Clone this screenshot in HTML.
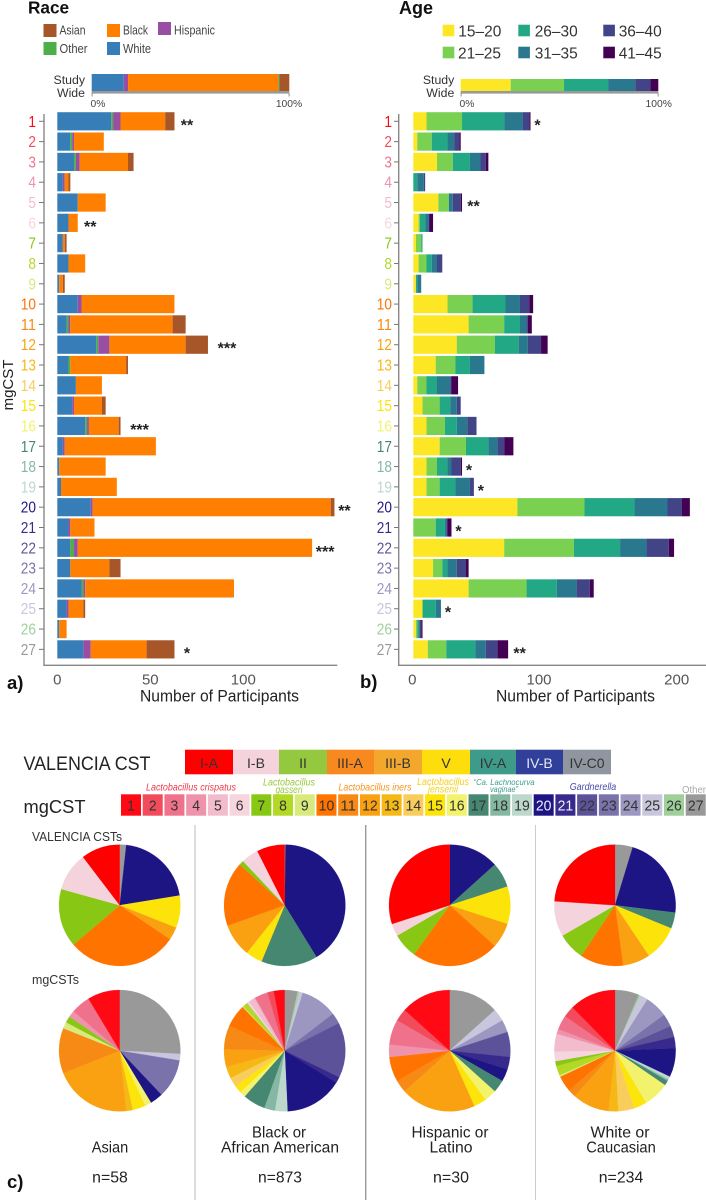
<!DOCTYPE html>
<html lang="en">
<head>
<meta charset="utf-8">
<title>mgCST by race and age</title>
<style>
html,body{margin:0;padding:0;background:#fff;width:706px;height:1200px;overflow:hidden}
svg{display:block;font-family:"Liberation Sans",sans-serif;filter:blur(0.3px)}
</style>
</head>
<body>
<svg id="fig" xmlns="http://www.w3.org/2000/svg" width="706" height="1200" viewBox="0 0 706 1200">
<g id="panel-a">
  <text x="28" y="13.5" font-size="17.2" font-weight="bold" fill="#111">Race</text>
  <g font-size="12.5" fill="#444" lengthAdjust="spacingAndGlyphs">
    <rect x="43.5" y="24" width="13" height="13" fill="#a65628"/>
    <text x="59.5" y="34.5" textLength="26" lengthAdjust="spacingAndGlyphs">Asian</text>
    <rect x="43.5" y="42" width="13" height="13" fill="#4daf4a"/>
    <text x="59.5" y="53" textLength="28" lengthAdjust="spacingAndGlyphs">Other</text>
    <rect x="107" y="24" width="13" height="13" fill="#ff7f00"/>
    <text x="123" y="34.5" textLength="25" lengthAdjust="spacingAndGlyphs">Black</text>
    <rect x="107" y="42" width="13" height="13" fill="#377eb8"/>
    <text x="123" y="53" textLength="28" lengthAdjust="spacingAndGlyphs">White</text>
    <rect x="158" y="22" width="13" height="13" fill="#984ea3"/>
    <text x="174" y="34.5" textLength="41" lengthAdjust="spacingAndGlyphs">Hispanic</text>
  </g>
  <g>
    <text x="85" y="84" font-size="12.3" text-anchor="end" fill="#333">Study</text>
    <text x="85" y="97" font-size="12.3" text-anchor="end" fill="#333">Wide</text>
    <rect x="91.7" y="91" width="197.6" height="2.6" fill="#999"/>
    <rect x="91.7" y="93" width="0.8" height="3.5" fill="#777"/>
    <rect x="288.7" y="93" width="0.8" height="3.5" fill="#777"/>
    <text x="98" y="107" font-size="10.3" text-anchor="middle" fill="#444">0%</text>
    <text x="289" y="107" font-size="10.3" text-anchor="middle" fill="#444">100%</text>
  </g>
  <text transform="translate(13,385) rotate(-90)" font-size="15" text-anchor="middle" fill="#222">mgCST</text>
  <rect x="43.3" y="114" width="1.4" height="551.5" fill="#888"/>
  <rect x="43.3" y="664.6" width="294" height="1.4" fill="#888"/>
  <text x="219.5" y="701.5" font-size="16.5" text-anchor="middle" fill="#222" textLength="159" lengthAdjust="spacingAndGlyphs">Number of Participants</text>
  <text x="7" y="689" font-size="18.5" font-weight="bold" fill="#111">a)</text>
</g>
<g id="panel-b">
  <text x="399" y="14" font-size="18" font-weight="bold" fill="#111">Age</text>
  <g font-size="16" fill="#333">
    <rect x="442.7" y="24.7" width="11.6" height="11.6" fill="#fde725"/>
    <text x="458.3" y="36.5" textLength="43" lengthAdjust="spacingAndGlyphs">15–20</text>
    <rect x="442.7" y="46.7" width="11.6" height="11.6" fill="#7ad151"/>
    <text x="458" y="58.5" textLength="43" lengthAdjust="spacingAndGlyphs">21–25</text>
    <rect x="518.3" y="24.7" width="11.6" height="11.6" fill="#22a884"/>
    <text x="534.7" y="36.5" textLength="43" lengthAdjust="spacingAndGlyphs">26–30</text>
    <rect x="518.3" y="46.7" width="11.6" height="11.6" fill="#2a788e"/>
    <text x="534.7" y="58.5" textLength="43" lengthAdjust="spacingAndGlyphs">31–35</text>
    <rect x="603.3" y="24.7" width="11.6" height="11.6" fill="#414487"/>
    <text x="618.7" y="36.5" textLength="43" lengthAdjust="spacingAndGlyphs">36–40</text>
    <rect x="603.3" y="46.7" width="11.6" height="11.6" fill="#440154"/>
    <text x="618.7" y="58.5" textLength="43" lengthAdjust="spacingAndGlyphs">41–45</text>
  </g>
  <g>
    <text x="454.3" y="84" font-size="12.3" text-anchor="end" fill="#333">Study</text>
    <text x="454.3" y="97" font-size="12.3" text-anchor="end" fill="#333">Wide</text>
    <rect x="460.7" y="91" width="197.6" height="2.6" fill="#999"/>
    <rect x="460.7" y="93" width="0.8" height="3.5" fill="#777"/>
    <rect x="657.7" y="93" width="0.8" height="3.5" fill="#777"/>
    <text x="467" y="107" font-size="10.3" text-anchor="middle" fill="#444">0%</text>
    <text x="658.7" y="107" font-size="10.3" text-anchor="middle" fill="#444">100%</text>
  </g>
  <rect x="398" y="114" width="1.4" height="551.5" fill="#888"/>
  <rect x="398" y="664.6" width="308" height="1.4" fill="#888"/>
  <text x="575.5" y="701.5" font-size="16.5" text-anchor="middle" fill="#222" textLength="159" lengthAdjust="spacingAndGlyphs">Number of Participants</text>
  <text x="360" y="688" font-size="18.5" font-weight="bold" fill="#111">b)</text>
</g>
<g id="panel-c">
  <text x="23.5" y="770" font-size="19" fill="#222" textLength="127" lengthAdjust="spacingAndGlyphs">VALENCIA CST</text>
  <text x="23.5" y="813" font-size="18.5" fill="#222" textLength="62" lengthAdjust="spacingAndGlyphs">mgCST</text>
  <g font-size="14" text-anchor="middle" fill="#333">
    <rect x="185" y="749.7" width="48" height="24.6" fill="#ff0000"/>
    <rect x="233" y="749.7" width="46" height="24.6" fill="#f5d3dc"/>
    <rect x="279" y="749.7" width="48" height="24.6" fill="#93c83f"/>
    <rect x="327" y="749.7" width="47" height="24.6" fill="#f7891e"/>
    <rect x="374" y="749.7" width="48" height="24.6" fill="#f4a72d"/>
    <rect x="422" y="749.7" width="48" height="24.6" fill="#fedd0d"/>
    <rect x="470" y="749.7" width="46" height="24.6" fill="#3e9b8a"/>
    <rect x="516" y="749.7" width="47" height="24.6" fill="#2f3f9a"/>
    <rect x="563" y="749.7" width="48" height="24.6" fill="#8f96a0"/>
    <text x="209" y="768">I-A</text>
    <text x="256" y="768">I-B</text>
    <text x="303" y="768">II</text>
    <text x="350" y="768">III-A</text>
    <text x="398" y="768">III-B</text>
    <text x="446" y="768">V</text>
    <text x="493" y="768">IV-A</text>
    <text x="539.5" y="768" fill="#e8e8f4">IV-B</text>
    <text x="587" y="768">IV-C0</text>
  </g>
  <g font-style="italic" text-anchor="middle" font-size="10">
    <text x="191" y="790.5" fill="#ee3a4a" textLength="90" lengthAdjust="spacingAndGlyphs">Lactobacillus crispatus</text>
    <text x="289" y="785.5" fill="#9ac83c" textLength="52" lengthAdjust="spacingAndGlyphs">Lactobacillus</text>
    <text x="289" y="793" fill="#9ac83c" textLength="27" lengthAdjust="spacingAndGlyphs">gasseri</text>
    <text x="375" y="790.5" fill="#f7941e" textLength="73" lengthAdjust="spacingAndGlyphs">Lactobacillus iners</text>
    <text x="443" y="785" fill="#f5cf1a" textLength="52" lengthAdjust="spacingAndGlyphs">Lactobacillus</text>
    <text x="443" y="792.5" fill="#f5cf1a" textLength="30" lengthAdjust="spacingAndGlyphs">jensenii</text>
    <text x="504" y="785" fill="#3e9b8a" font-size="8.5" textLength="61" lengthAdjust="spacingAndGlyphs">“Ca. Lachnocurva</text>
    <text x="504" y="792" fill="#3e9b8a" font-size="8.5" textLength="28" lengthAdjust="spacingAndGlyphs">vaginae”</text>
    <text x="593" y="790" fill="#4a4aa8" textLength="46.5" lengthAdjust="spacingAndGlyphs">Gardnerella</text>
    <text x="694" y="793" fill="#aaa" font-style="normal" textLength="24" lengthAdjust="spacingAndGlyphs">Other</text>
  </g>
  <rect x="194.5" y="825" width="1" height="375" fill="#bbb"/>
  <rect x="365" y="825" width="1.4" height="375" fill="#999"/>
  <rect x="535" y="825" width="1" height="375" fill="#ccc"/>
  <text x="32" y="841" font-size="12.5" fill="#333" textLength="90" lengthAdjust="spacingAndGlyphs">VALENCIA CSTs</text>
  <text x="32" y="984" font-size="12.5" fill="#333" textLength="47" lengthAdjust="spacingAndGlyphs">mgCSTs</text>
  <g font-size="16" text-anchor="middle" fill="#222">
    <text x="110" y="1152.5" textLength="36.5" lengthAdjust="spacingAndGlyphs">Asian</text>
    <text x="279" y="1137.5" textLength="54" lengthAdjust="spacingAndGlyphs">Black or</text>
    <text x="280" y="1152.5" textLength="118" lengthAdjust="spacingAndGlyphs">African American</text>
    <text x="450" y="1137.5" textLength="77" lengthAdjust="spacingAndGlyphs">Hispanic or</text>
    <text x="451" y="1152.5" textLength="43" lengthAdjust="spacingAndGlyphs">Latino</text>
    <text x="620" y="1137.5" textLength="59" lengthAdjust="spacingAndGlyphs">White or</text>
    <text x="621" y="1152.5" textLength="69.5" lengthAdjust="spacingAndGlyphs">Caucasian</text>
    <text x="110" y="1182.5" textLength="35.7" lengthAdjust="spacingAndGlyphs">n=58</text>
    <text x="280" y="1182.5" textLength="44" lengthAdjust="spacingAndGlyphs">n=873</text>
    <text x="451" y="1182.5" textLength="36" lengthAdjust="spacingAndGlyphs">n=30</text>
    <text x="621" y="1182.5" textLength="44.5" lengthAdjust="spacingAndGlyphs">n=234</text>
  </g>
  <text x="7" y="1188" font-size="18.5" font-weight="bold" fill="#111">c)</text>
</g>
</svg>
<script>
// ---------- categories ----------
const mgcstLabels = ['1','2','3','4','5','6','7','8','9','10','11','12','13','14','15','16','17','18','19','20','21','22','23','24','25','26','27'];
const mgcstColors = ['#ff0a14','#f24c5c','#f0718b','#ee93ab','#f3bccd','#f6d5de','#88c714','#b3d927','#d8ea7c','#ff7300','#f78a14','#f9a110','#f5b814','#f8cd5c','#fde40a','#f2f26c','#458770','#84b8a3','#bcd8cc','#1e1585','#38298c','#5c5299','#7a72ab','#9b97c0','#c8c6dc','#9ed09a','#999999'];
const valenciaColors = ['#ff0000','#f5d3dc','#88c714','#ff7300','#f9a110','#fce40a','#458770','#1e1585','#999999'];

// ---------- race counts per mgCST ----------
const raceWhite    = [29,7,9,3,11,6,3,6,1,11,5,21,6,10,8,15,3,1,2,18,6,7,7,13,5,1,14];
const raceOther    = [1,1,1,0,0,0,0,0,0,0,1,1,1,0,0,1,0,0,0,0,0,2,0,1,0,0,0];
const raceHispanic = [4,1,2,1,0,0,0,0,0,2,1,6,0,0,1,1,1,0,0,1,1,2,0,1,1,0,4];
const raceBlack    = [24,16,26,2,15,5,1,9,2,50,55,41,30,14,15,16,49,25,30,128,13,126,21,80,8,4,30];
const raceAsian    = [5,0,3,1,0,0,1,0,1,0,7,12,1,0,2,1,0,0,0,2,0,0,6,0,1,0,15];
const raceSeries   = ['white','other','hispanic','black','asian'];
const raceColors   = ['#377eb8','#4daf4a','#984ea3','#ff7f00','#a65628'];
const raceSig      = ['**','','','','','**','','','','','','***','','','','***','','','','**','','***','','','','','*'];
const raceTicks    = [0,50,100];
// study-wide percentages, left to right
const raceStudyNames  = ['white','hispanic','black','other','asian'];
const raceStudyValues = [16.2,2.2,76,0.5,5.1];
const raceStudyColors = ['#377eb8','#984ea3','#ff7f00','#4daf4a','#a65628'];

// ---------- age counts per mgCST ----------
const age1520 = [10,3,18,0,19,4,2,4,2,26,42,33,17,3,7,10,20,10,10,79,0,69,15,42,7,2,11];
const age2125 = [27,11,12,0,8,1,4,6,0,19,27,29,15,7,13,14,20,8,10,51,17,53,7,44,0,1,14];
const age2630 = [32,12,13,3,0,4,1,4,1,25,12,18,11,8,8,9,17,8,12,38,7,35,4,23,10,1,22];
const age3135 = [14,5,8,5,3,3,0,4,3,11,5,7,11,10,5,8,7,3,11,25,1,20,7,15,4,1,8];
const age3640 = [5,4,4,1,6,0,0,4,0,7,1,10,0,1,3,7,5,7,3,11,1,17,7,10,0,1,9];
const age4145 = [1,1,2,0,1,3,0,0,0,3,3,5,0,5,0,0,7,1,0,6,3,4,2,3,0,1,8];
const ageSeries = ['15-20','21-25','26-30','31-35','36-40','41-45'];
const ageColors = ['#fde725','#7ad151','#22a884','#2a788e','#414487','#440154'];
const ageSig    = ['*','','','','**','','','','','','','','','','','','','*','*','','*','','','','*','','**'];
const ageTicks  = [0,100,200];
const ageStudyValues = [25.3,27,22.3,13.7,7.7,4];

// ---------- pies: counts in order VALENCIA I-A..IV-C0 / mgCST 1..27 ----------
const valenciaAsian    = [6,6,9,17,2,5,0,12,1];
const valenciaBlack    = [65,40,11,150,77,39,131,358,2];
const valenciaHispanic = [9,1,2,7,2,3,2,4,0];
const valenciaWhite    = [56,22,17,27,17,22,10,52,11];
const mgcstAsian    = [5,0,3,1,0,0,1,0,1,0,7,12,1,0,2,1,0,0,0,2,0,0,6,0,1,0,15];
const mgcstBlack    = [25,15,30,2,15,5,1,11,2,53,55,41,27,22,17,14,52,25,29,134,14,128,25,85,8,4,30];
const mgcstHispanic = [4,1,2,1,0,0,0,0,0,2,1,6,0,0,1,1,1,0,0,1,1,2,0,1,1,0,4];
const mgcstWhite    = [29,7,9,3,11,6,3,6,1,10,5,23,6,10,8,16,3,1,2,18,7,7,8,14,5,1,15];
const pieGroups = ['asian','black','hispanic','white'];

// ---------- helpers ----------
const NS = 'http://www.w3.org/2000/svg';
const fig = document.getElementById('fig');
function mk(parent, tag, attrs, txt){
  const el = document.createElementNS(NS, tag);
  for (const k in attrs) el.setAttribute(k, attrs[k]);
  if (txt !== undefined) el.textContent = txt;
  parent.appendChild(el);
  return el;
}
// axis functions
const rowY = i => 121.3 + i * 20.31;
const BAR_H = 18.2;
const xRace = v => 57.3 + v * 1.86;
const xAge  = v => 413.3 + v * 1.317;
const pctRace = v => 91.7 + v * 1.976;
const pctAge  = v => 460.7 + v * 1.976;

function rowLabels(panel, prefix, xRight, xTick0, xTick1){
  mgcstLabels.forEach((lab, i) => {
    const t = mk(panel, 'line', {x1:xTick0, x2:xTick1, y1:rowY(i), y2:rowY(i), stroke:'#777', 'stroke-width':1});
    
    
    const l = mk(panel, 'text', {x:xRight, y:rowY(i)+5.5, 'font-size':15.5, 'text-anchor':'end', fill:mgcstColors[i], textLength:lab.length*7.6, lengthAdjust:'spacingAndGlyphs'}, lab);
    
    
  });
}
function stacked(panel, prefix, seriesValues, seriesNames, colors, xf, sig, starGap){
  mgcstLabels.forEach((lab, i) => {
    let cum = 0;
    seriesValues.forEach((vals, s) => {
      const v = vals[i];
      if (v > 0){
        const r = mk(panel, 'rect', {x:xf(cum), y:rowY(i)-BAR_H/2, width:xf(cum+v)-xf(cum), height:BAR_H, fill:colors[s]});
        
        
      }
      cum += v;
    });
    if (sig[i]){
      const st = mk(panel, 'text', {x:xf(cum)+starGap(i, sig[i]), y:rowY(i)+9, 'font-size':16, 'font-weight':'bold', 'text-anchor':'middle', fill:'#222'}, sig[i]);
      
      
    }
  });
}
function xTicks(panel, prefix, ticks, xf, nudge){
  ticks.forEach(t => {
    const l = mk(panel, 'text', {x:xf(t)+nudge(t), y:684.5, 'font-size':15, 'text-anchor':'middle', fill:'#555'}, String(t));
    
    
  });
}
function study(panel, prefix, values, names, colors, xf){
  let cum = 0;
  values.forEach((v, s) => {
    const r = mk(panel, 'rect', {x:xf(cum), y:prefix === 'race' ? 74 : 79, width:xf(cum+v)-xf(cum), height:prefix === 'race' ? 17 : 12, fill:colors[s]});
    
    
    cum += v;
  });
}
function pie(parent, name, cx, cy, r, values, colors, labels){
  const total = values.reduce((a, b) => a + b, 0);
  let cum = 0;
  for (let k = values.length - 1; k >= 0; k--){
    const v = values[k];
    if (v <= 0) continue;
    const a0 = cum / total * 2 * Math.PI;
    cum += v;
    const a1 = cum / total * 2 * Math.PI;
    const large = (a1 - a0) > Math.PI ? 1 : 0;
    const d = 'M' + cx + ' ' + cy +
      'L' + (cx + r * Math.sin(a0)).toFixed(2) + ' ' + (cy - r * Math.cos(a0)).toFixed(2) +
      'A' + r + ' ' + r + ' 0 ' + large + ' 1 ' + (cx + r * Math.sin(a1)).toFixed(2) + ' ' + (cy - r * Math.cos(a1)).toFixed(2) + 'Z';
    const p = mk(parent, 'path', {d:d, fill:colors[k], stroke:colors[k], 'stroke-width':0.2});
    
    
  }
}

// ---------- panel a ----------
const panelA = document.getElementById('panel-a');
rowLabels(panelA, 'race', 36, 39, 44);
stacked(panelA, 'race', [raceWhite, raceOther, raceHispanic, raceBlack, raceAsian], raceSeries, raceColors, xRace, raceSig,
  (i, s) => (i === 19 ? 10 : i === 21 ? 13 : s.length === 3 ? 19 : 12.5));
xTicks(panelA, 'race', raceTicks, xRace, () => 0);
study(panelA, 'race', raceStudyValues, raceStudyNames, raceStudyColors, pctRace);

// ---------- panel b ----------
const panelB = document.getElementById('panel-b');
rowLabels(panelB, 'age', 392, 394, 399);
stacked(panelB, 'age', [age1520, age2125, age2630, age3135, age3640, age4145], ageSeries, ageColors, xAge, ageSig,
  (i, s) => (s.length === 2 ? 11.5 : 7));
xTicks(panelB, 'age', ageTicks, xAge, t => (t === 100 ? -6 : t === 0 ? -1 : 0));
study(panelB, 'age', ageStudyValues, ageSeries, ageColors, pctAge);

// ---------- panel c ----------
const panelC = document.getElementById('panel-c');
mgcstLabels.forEach((lab, i) => {
  const cx = 121 + i * 21.72;
  const c = mk(panelC, 'rect', {x:cx, y:794.3, width:20, height:21.4, fill:mgcstColors[i]});
  
  
  const t = mk(panelC, 'text', {x:cx+10, y:810.5, 'font-size':15, 'text-anchor':'middle', fill:(lab === '20' || lab === '21') ? '#eeeef8' : '#333', textLength:lab.length*7.8, lengthAdjust:'spacingAndGlyphs'}, lab);
  
  
});
const valenciaLabels = ['i-a','i-b','ii','iii-a','iii-b','v','iv-a','iv-b','iv-c0'];
const topPies = [valenciaAsian, valenciaBlack, valenciaHispanic, valenciaWhite];
const botPies = [mgcstAsian, mgcstBlack, mgcstHispanic, mgcstWhite];
const pieCx = g => 119.7 + [0, 165, 330, 495.3][g];
pieGroups.forEach((g, idx) => {
  pie(panelC, 'valencia-pie-' + g, pieCx(idx), 905.3, 60.7, topPies[idx], valenciaColors, valenciaLabels);
  pie(panelC, 'mgcst-pie-' + g, pieCx(idx), 1050.7, 60.7, botPies[idx], mgcstColors, mgcstLabels);
});
</script>
</body>
</html>
